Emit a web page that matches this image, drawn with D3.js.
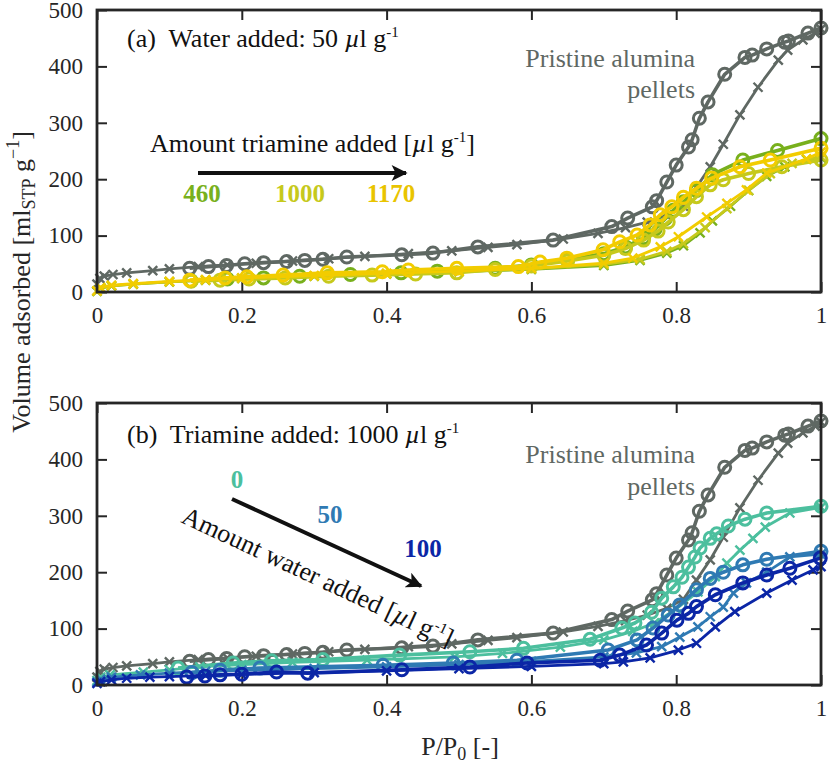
<!DOCTYPE html>
<html>
<head>
<meta charset="utf-8">
<script src="https://cdn.jsdelivr.net/npm/d3@7"></script>
<style>
  body { margin: 0; background: #fff; }
  svg { display: block; }
  text { font-family: "Liberation Serif", "DejaVu Serif", serif; }
  .tick text { font-size: 23px; fill: #262626; }
  .tick line { stroke: #262626; stroke-width: 2; }
  .domain { display: none; }
</style>
</head>
<body>
<svg id="chart" width="830" height="763"></svg>
<script>
// tick values
const xTicks = [0, 0.2, 0.4, 0.6, 0.8, 1];
const yTicks = [0, 100, 200, 300, 400, 500];

// pristine alumina pellets (same in both panels)
const pristineAds = [[0,14],[0.004,24],[0.01,28],[0.022,31],[0.041,34],[0.077,38],[0.1,41],[0.14,45],[0.18,48],[0.22,51],[0.27,55],[0.32,59],[0.37,63],[0.43,68],[0.49,73],[0.54,79],[0.58,84],[0.644,94],[0.692,104],[0.73,114],[0.76,124],[0.787,136],[0.81,152],[0.828,186],[0.847,222],[0.865,262],[0.888,314],[0.913,363],[0.941,411],[0.954,429],[0.975,447],[0.992,459],[1.0,466]];
const pristineDes = [[1.0,468],[0.982,459],[0.955,445],[0.95,443],[0.925,431],[0.905,420],[0.895,416],[0.867,386],[0.844,337],[0.832,308],[0.822,270],[0.817,257],[0.8,225],[0.787,195],[0.773,162],[0.767,151],[0.733,131],[0.711,116],[0.63,92],[0.526,80],[0.464,69],[0.421,66],[0.345,62],[0.312,58],[0.287,56],[0.262,54],[0.23,52],[0.204,50],[0.179,47],[0.154,45],[0.128,42]];

// panel (a): water 50 ul/g, triamine 460 / 1000 / 1170 ul/g
const tri460Ads = [[0,1],[0.005,7],[0.02,11],[0.05,14],[0.1,18],[0.15,21],[0.2,24],[0.3,28],[0.4,32],[0.5,36],[0.6,40],[0.7,47],[0.75,56],[0.787,69],[0.81,82],[0.833,105],[0.85,126],[0.875,152],[0.9,180],[0.925,205],[0.95,222],[0.98,235],[1.0,238]];
const tri460Des = [[1.0,272],[0.94,251],[0.892,234],[0.85,208],[0.828,180],[0.81,160],[0.796,145],[0.785,130],[0.771,112],[0.755,96],[0.73,80],[0.7,68],[0.65,57],[0.6,48],[0.55,42],[0.47,37],[0.42,34],[0.35,31],[0.28,28],[0.23,25],[0.18,23],[0.13,20]];
const tri1000Ads = [[0,2],[0.005,7],[0.02,11],[0.05,14],[0.1,18],[0.15,21],[0.2,24],[0.3,28],[0.4,32],[0.5,36],[0.6,41],[0.7,49],[0.75,58],[0.787,72],[0.81,86],[0.84,114],[0.87,148],[0.9,180],[0.93,210],[0.96,228],[1.0,240]];
const tri1000Des = [[1.0,234],[0.946,222],[0.9,210],[0.865,199],[0.847,190],[0.828,169],[0.81,146],[0.789,124],[0.775,108],[0.755,92],[0.73,77],[0.7,65],[0.65,55],[0.6,46],[0.55,40],[0.497,34],[0.44,32],[0.38,30],[0.32,28],[0.26,25],[0.21,23],[0.17,21],[0.13,19]];
const tri1170Ads = [[0,2],[0.005,8],[0.02,12],[0.05,15],[0.1,19],[0.15,22],[0.2,25],[0.3,29],[0.4,33],[0.5,37],[0.6,42],[0.7,51],[0.74,60],[0.778,80],[0.803,98],[0.842,133],[0.87,157],[0.897,181],[0.925,211],[0.98,236],[1.0,248]];
const tri1170Des = [[1.0,255],[0.93,234],[0.888,222],[0.849,202],[0.828,184],[0.81,168],[0.794,151],[0.778,137],[0.764,119],[0.746,101],[0.722,89],[0.699,75],[0.649,60],[0.612,53],[0.582,45],[0.497,42],[0.43,39],[0.394,36],[0.318,34],[0.257,30],[0.207,27],[0.177,25],[0.128,21]];

// panel (b): triamine 1000 ul/g, water 0 / 50 / 100 ul/g
const water0Ads = [[0,8],[0.005,14],[0.018,18],[0.064,23],[0.1,27],[0.142,32],[0.2,36],[0.27,40],[0.373,44],[0.494,50],[0.56,56],[0.64,67],[0.7,80],[0.74,95],[0.77,110],[0.8,135],[0.83,165],[0.854,192],[0.87,216],[0.888,239],[0.906,260],[0.923,280],[0.957,305],[1.0,315]];
const water0Des = [[1.0,317],[0.925,305],[0.895,294],[0.872,282],[0.856,268],[0.847,260],[0.833,243],[0.826,227],[0.817,209],[0.808,191],[0.796,174],[0.78,154],[0.766,129],[0.743,110],[0.725,101],[0.681,81],[0.589,65],[0.515,59],[0.418,53],[0.312,45],[0.241,43],[0.188,39],[0.112,30]];
const water50Ads = [[0,5],[0.005,10],[0.02,14],[0.06,18],[0.1,21],[0.15,24],[0.2,26],[0.3,29],[0.4,32],[0.5,36],[0.6,42],[0.7,50],[0.745,57],[0.78,68],[0.805,85],[0.83,103],[0.847,121],[0.865,138],[0.879,163],[0.897,181],[0.925,200],[0.957,227],[1.0,232]];
const water50Des = [[1.0,237],[0.925,223],[0.892,213],[0.865,200],[0.847,189],[0.828,169],[0.805,142],[0.789,124],[0.768,101],[0.746,80],[0.706,62],[0.58,44],[0.492,39],[0.395,35],[0.225,30],[0.17,26],[0.131,22]];
const water100Ads = [[0,3],[0.005,6],[0.02,9],[0.041,12],[0.073,14],[0.1,15],[0.15,17],[0.2,19],[0.3,22],[0.4,25],[0.5,29],[0.6,33],[0.7,38],[0.727,41],[0.764,48],[0.803,62],[0.828,74],[0.854,103],[0.881,130],[0.925,163],[0.96,186],[0.989,204],[1.0,210]];
const water100Des = [[0.999,225],[0.957,207],[0.925,195],[0.892,181],[0.854,160],[0.828,139],[0.817,127],[0.801,115],[0.78,92],[0.759,71],[0.722,53],[0.695,44],[0.594,39],[0.515,32],[0.421,27],[0.291,21],[0.248,23],[0.2,19],[0.17,18],[0.149,16],[0.124,14]];

const colors = {
    pristine: '#5f6863',
    tri460: '#78b01c',
    tri1000: '#c6c91c',
    tri1170: '#f2cc00',
    water0: '#4cbf9e',
    water50: '#2f7ab3',
    water100: '#0b26a6'
};

const serif = '"Liberation Serif", "DejaVu Serif", serif';
const svg = d3.select('#chart');
const left = 97, right = 821;
const panelH = 282;

const x = d3.scaleLinear().domain([0, 1]).range([left, right]);

function drawSeries(g, y, data, color, marker) {
    const line = d3.line().x(d => x(d[0])).y(d => y(d[1]));
    g.append('path')
        .datum(data)
        .attr('fill', 'none')
        .attr('stroke', color)
        .attr('stroke-width', marker === 'o' ? 3.6 : 2.8)
        .attr('stroke-linejoin', 'round')
        .attr('d', line);

    if (marker === 'o') {
        g.append('g').selectAll('circle')
            .data(data)
            .enter().append('circle')
            .attr('cx', d => x(d[0]))
            .attr('cy', d => y(d[1]))
            .attr('r', 6)
            .attr('fill', 'none')
            .attr('stroke', color)
            .attr('stroke-width', 3);
    } else {
        const s = 4.5;
        g.append('g').selectAll('path')
            .data(data)
            .enter().append('path')
            .attr('d', d => {
                const cx = x(d[0]), cy = y(d[1]);
                return `M${cx - s},${cy - s}L${cx + s},${cy + s}M${cx - s},${cy + s}L${cx + s},${cy - s}`;
            })
            .attr('stroke', color)
            .attr('stroke-width', 2.4);
    }
}

function drawPanel(top, seriesList) {
    const bottom = top + panelH;
    const y = d3.scaleLinear().domain([0, 500]).range([bottom, top]);
    const g = svg.append('g');

    // inward ticks on all four sides
    const axes = [
        g.append('g').attr('transform', `translate(0,${bottom})`)
            .call(d3.axisBottom(x).tickValues(xTicks).tickSize(-10).tickPadding(15).tickFormat(d3.format('~g'))),
        g.append('g').attr('transform', `translate(0,${top})`)
            .call(d3.axisTop(x).tickValues(xTicks).tickSize(-10).tickFormat('')),
        g.append('g').attr('transform', `translate(${left},0)`)
            .call(d3.axisLeft(y).tickValues(yTicks).tickSize(-10).tickPadding(14)),
        g.append('g').attr('transform', `translate(${right},0)`)
            .call(d3.axisRight(y).tickValues(yTicks).tickSize(-10).tickFormat(''))
    ];
    axes.forEach(a => a.attr('font-family', serif).attr('font-size', 23));

    // data
    const plot = g.append('g');
    seriesList.forEach(s => drawSeries(plot, y, s.data, s.color, s.marker));

    // frame
    g.append('rect')
        .attr('x', left).attr('y', top)
        .attr('width', right - left).attr('height', panelH)
        .attr('fill', 'none')
        .attr('stroke', '#262626')
        .attr('stroke-width', 2.8);

    return g;
}

// arrow head marker
svg.append('defs').append('marker')
    .attr('id', 'arrowhead')
    .attr('viewBox', '0 0 10 10')
    .attr('refX', 9).attr('refY', 5)
    .attr('markerWidth', 5.5).attr('markerHeight', 4)
    .attr('markerUnits', 'strokeWidth')
    .attr('orient', 'auto')
    .append('path')
    .attr('d', 'M0,0L10,5L0,10L2.5,5Z')
    .attr('fill', '#111');

// ---- panel (a)
drawPanel(10, [
    { data: pristineAds, color: colors.pristine, marker: 'x' },
    { data: pristineDes, color: colors.pristine, marker: 'o' },
    { data: tri460Ads, color: colors.tri460, marker: 'x' },
    { data: tri460Des, color: colors.tri460, marker: 'o' },
    { data: tri1000Ads, color: colors.tri1000, marker: 'x' },
    { data: tri1000Des, color: colors.tri1000, marker: 'o' },
    { data: tri1170Ads, color: colors.tri1170, marker: 'x' },
    { data: tri1170Des, color: colors.tri1170, marker: 'o' }
]);

// ---- panel (b)
drawPanel(403, [
    { data: pristineAds, color: colors.pristine, marker: 'x' },
    { data: pristineDes, color: colors.pristine, marker: 'o' },
    { data: water0Ads, color: colors.water0, marker: 'x' },
    { data: water0Des, color: colors.water0, marker: 'o' },
    { data: water50Ads, color: colors.water50, marker: 'x' },
    { data: water50Des, color: colors.water50, marker: 'o' },
    { data: water100Ads, color: colors.water100, marker: 'x' },
    { data: water100Des, color: colors.water100, marker: 'o' }
]);

// helper for "... µl g-1" style text
function unitText(sel, prefix, suffix) {
    sel.append('tspan').text(prefix);
    sel.append('tspan').attr('font-style', 'italic').text('µ');
    sel.append('tspan').text('l g');
    sel.append('tspan').attr('font-size', 15).attr('dy', -10).text('-1');
    if (suffix) sel.append('tspan').attr('dy', 10).text(suffix);
}

const txt = svg.append('g').attr('font-size', 26).attr('font-family', serif).attr('fill', '#111');

// panel (a) annotations
unitText(txt.append('text').attr('x', 127).attr('y', 47).attr('xml:space', 'preserve'), '(a)  Water added: 50 ');
unitText(txt.append('text').attr('x', 150).attr('y', 152), 'Amount triamine added [', ']');
txt.append('line')
    .attr('x1', 198).attr('y1', 173).attr('x2', 406).attr('y2', 173)
    .attr('stroke', '#111').attr('stroke-width', 4)
    .attr('marker-end', 'url(#arrowhead)');
[['460', 202, colors.tri460], ['1000', 300, colors.tri1000], ['1170', 391, '#e9c400']].forEach(d => {
    txt.append('text').attr('x', d[1]).attr('y', 202)
        .attr('text-anchor', 'middle').attr('font-weight', 'bold').attr('font-size', 25)
        .attr('fill', d[2]).text(d[0]);
});
[[67, 'Pristine alumina'], [98, 'pellets'], [463, 'Pristine alumina'], [495, 'pellets']].forEach(d => {
    txt.append('text').attr('x', 695).attr('y', d[0])
        .attr('text-anchor', 'end').attr('fill', colors.pristine).text(d[1]);
});

// panel (b) annotations
unitText(txt.append('text').attr('x', 127).attr('y', 443).attr('xml:space', 'preserve'), '(b)  Triamine added: 1000 ');
txt.append('line')
    .attr('x1', 232).attr('y1', 499).attr('x2', 421).attr('y2', 586)
    .attr('stroke', '#111').attr('stroke-width', 4)
    .attr('marker-end', 'url(#arrowhead)');
[['0', 237, 488, colors.water0], ['50', 330, 523, colors.water50], ['100', 423, 557, colors.water100]].forEach(d => {
    txt.append('text').attr('x', d[1]).attr('y', d[2])
        .attr('text-anchor', 'middle').attr('font-weight', 'bold').attr('font-size', 25)
        .attr('fill', d[3]).text(d[0]);
});
unitText(txt.append('text').attr('transform', 'translate(180,522) rotate(25)'), 'Amount water added [', ']');

// axis titles
const xt = txt.append('text').attr('x', 460).attr('y', 755).attr('text-anchor', 'middle').attr('fill', '#262626');
xt.append('tspan').text('P/P');
xt.append('tspan').attr('font-size', 18).attr('dy', 5).text('0');
xt.append('tspan').attr('dy', -5).attr('xml:space', 'preserve').text(' [-]');

const yt = txt.append('text').attr('transform', 'translate(30,282) rotate(-90)')
    .attr('text-anchor', 'middle').attr('fill', '#262626');
yt.append('tspan').text('Volume adsorbed [ml');
yt.append('tspan').attr('font-size', 18).attr('dy', 5).text('STP');
yt.append('tspan').attr('dy', -5).text(' g');
yt.append('tspan').attr('font-size', 18).attr('dy', -11).text('−1');
yt.append('tspan').attr('dy', 11).text(']');
</script>
</body>
</html>
